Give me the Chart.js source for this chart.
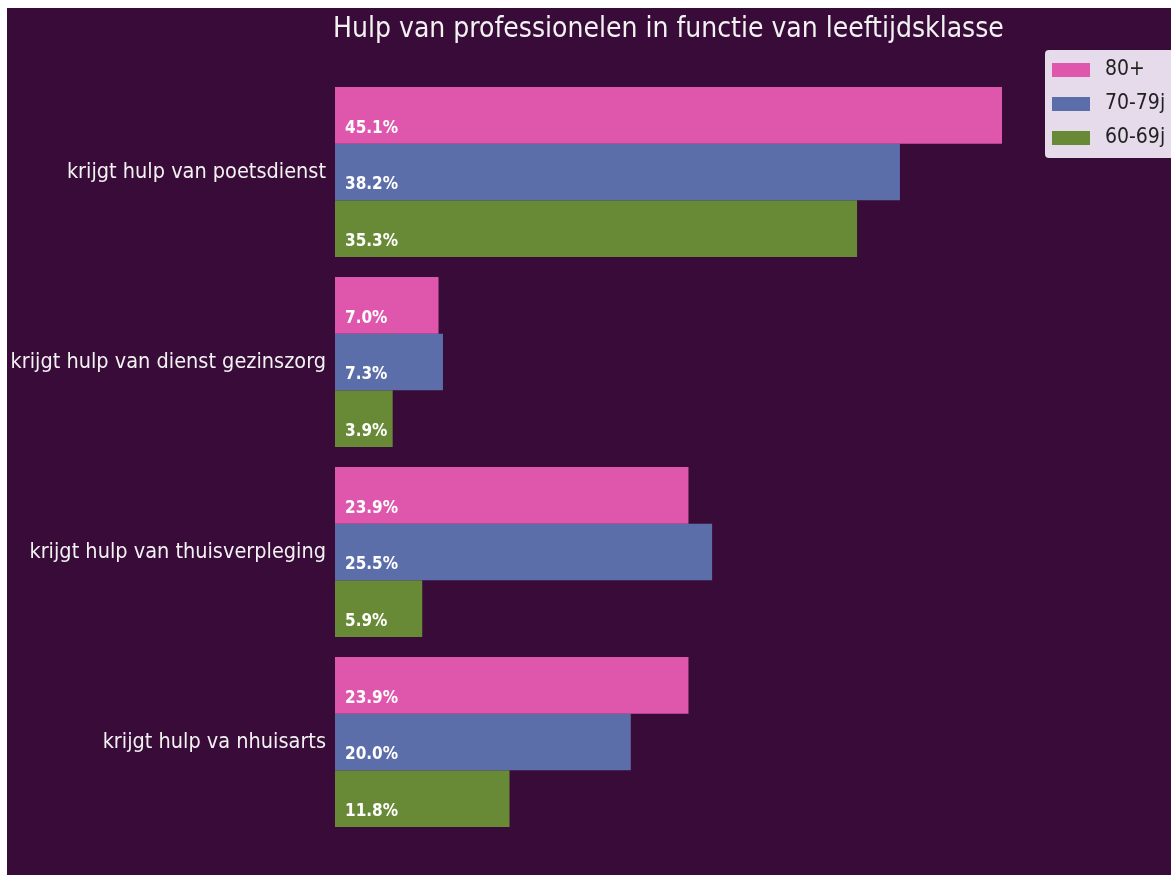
<!DOCTYPE html>
<html>
<head>
<meta charset="utf-8">
<script src="https://cdn.jsdelivr.net/npm/chart.js@4"></script>
<style>
  html, body { margin: 0; padding: 0; background: #ffffff; }
  #wrap { width: 1171px; height: 875px; position: relative; }
</style>
</head>
<body>
<div id="wrap"><canvas id="chart" width="1171" height="875"></canvas></div>
<script>
const categories = [
    "krijgt hulp van poetsdienst",
    "krijgt hulp van dienst gezinszorg",
    "krijgt hulp van thuisverpleging",
    "krijgt hulp va nhuisarts"
];
const seriesNames = ["80+", "70-79j", "60-69j"];
const val80 = [45.1, 7.0, 23.9, 23.9];
const val70 = [38.2, 7.3, 25.5, 20.0];
const val60 = [35.3, 3.9, 5.9, 11.8];
const colors = ["#de57ad", "#5b6ea9", "#688a36"];
const chartTitle = "Hulp van professionelen in functie van leeftijdsklasse";

const fontName = "'DejaVu Sans Condensed', 'DejaVu Sans', sans-serif";
const panelColor = "#380b38";

const panel = { // purple background panel
    id: "panel",
    beforeDraw(chart) {
        const c = chart.ctx;
        c.save();
        c.fillStyle = "#ffffff";
        c.fillRect(0, 0, chart.width, chart.height);
        c.fillStyle = panelColor;
        c.fillRect(7, 8, chart.width - 7, chart.height - 8);
        c.restore();
    }
};

const extras = { // bar labels, title and legend box
    id: "extras",
    afterDatasetsDraw(chart) {
        const c = chart.ctx;
        c.save();
        c.font = "bold 17px " + fontName;
        c.fillStyle = "#ffffff";
        c.textAlign = "left";
        c.textBaseline = "middle";
        chart.data.datasets.forEach((ds, i) => {
            chart.getDatasetMeta(i).data.forEach((bar, j) => {
                c.fillText(ds.data[j].toFixed(1) + "%", bar.base + 10, bar.y + 13);
            });
        });

        // title over the plot area
        const a = chart.chartArea;
        c.font = "28px " + fontName;
        c.textAlign = "center";
        c.fillStyle = "#f2f2f2";
        c.fillText(chartTitle, (a.left + a.right) / 2, 30);

        // legend
        const lx = 1045, ly = 50, lw = 140, lh = 108;
        c.fillStyle = "#e6dbeb";
        c.beginPath();
        c.roundRect(lx, ly, lw, lh, 4);
        c.fill();
        c.font = "21px " + fontName;
        c.textAlign = "left";
        chart.data.datasets.forEach((ds, i) => {
            const y = ly + 20 + i * 34;
            c.fillStyle = ds.backgroundColor;
            c.fillRect(lx + 7, y - 7, 38, 14);
            c.fillStyle = "#222222";
            c.fillText(ds.label, lx + 60, y);
        });
        c.restore();
    }
};

const ctx = document.getElementById("chart").getContext("2d");
const chart = new Chart(ctx, {
    type: "bar",
    data: {
        labels: categories,
        datasets: [
            { label: seriesNames[0], data: val80, backgroundColor: colors[0] },
            { label: seriesNames[1], data: val70, backgroundColor: colors[1] },
            { label: seriesNames[2], data: val60, backgroundColor: colors[2] }
        ]
    },
    options: {
        indexAxis: "y",
        responsive: false,
        animation: false,
        layout: { padding: { top: 77, bottom: 38, right: 169, left: 0 } },
        datasets: { bar: { barPercentage: 1.0, categoryPercentage: 0.895 } },
        scales: {
            x: { display: false, min: 0, max: 45.1 },
            y: {
                grid: { display: false },
                border: { display: false },
                ticks: { color: "#f2f2f2", font: { family: fontName, size: 21.5 }, padding: 1 },
                afterFit(scale) { scale.width = 335; }
            }
        },
        plugins: {
            legend: { display: false },
            tooltip: { enabled: false },
            title: { display: false }
        }
    },
    plugins: [panel, extras]
});
</script>
</body>
</html>
